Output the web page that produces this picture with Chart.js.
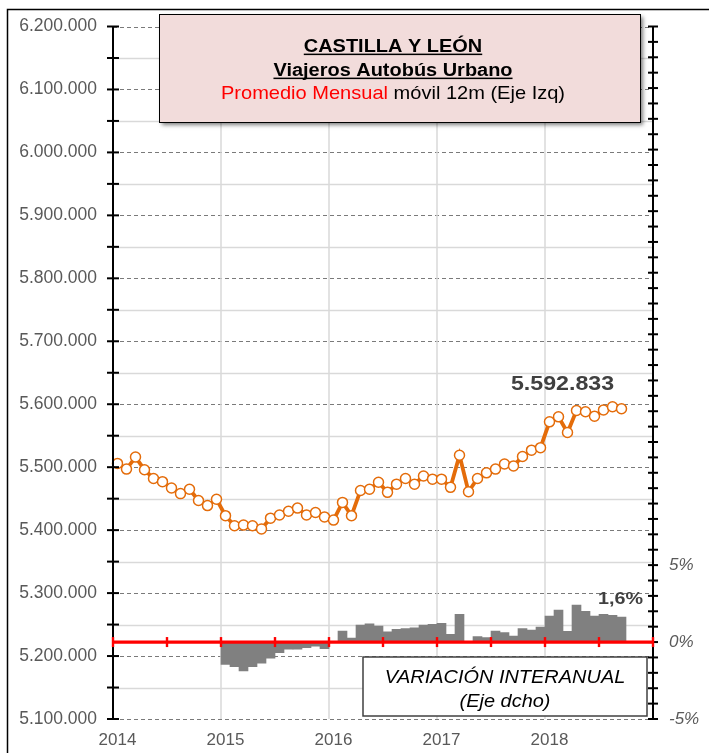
<!DOCTYPE html>
<html>
<head>
<meta charset="utf-8">
<script src="https://cdn.jsdelivr.net/npm/chart.js@4"></script>
<style>
html,body{margin:0;padding:0;background:#fff;}
#wrap{width:709px;height:753px;position:relative;overflow:hidden;}
</style>
</head>
<body>
<div id="wrap"><canvas id="c" width="709" height="753"></canvas></div>
<script>
// ---- categories (months, Jan 2014 .. Dec 2018) ----
const months = [
  '2014-01','2014-02','2014-03','2014-04','2014-05','2014-06','2014-07','2014-08','2014-09','2014-10','2014-11','2014-12',
  '2015-01','2015-02','2015-03','2015-04','2015-05','2015-06','2015-07','2015-08','2015-09','2015-10','2015-11','2015-12',
  '2016-01','2016-02','2016-03','2016-04','2016-05','2016-06','2016-07','2016-08','2016-09','2016-10','2016-11','2016-12',
  '2017-01','2017-02','2017-03','2017-04','2017-05','2017-06','2017-07','2017-08','2017-09','2017-10','2017-11','2017-12',
  '2018-01','2018-02','2018-03','2018-04','2018-05','2018-06','2018-07','2018-08','2018-09','2018-10','2018-11','2018-12'
];

// ---- series: monthly average, 12-month moving (left axis) ----
const promedioMovil = [
  5506000, 5497000, 5516000, 5496000, 5482000, 5477000, 5467000, 5458000, 5465000, 5447000, 5439000, 5449000,
  5423000, 5407000, 5408000, 5407000, 5402000, 5419000, 5424000, 5430000, 5435000, 5424000, 5428000, 5421000,
  5416000, 5444000, 5423000, 5463000, 5465000, 5476000, 5460000, 5473000, 5482000, 5473000, 5486000, 5481000,
  5481000, 5468000, 5519000, 5461000, 5482000, 5491000, 5497000, 5505000, 5502000, 5517000, 5527000, 5531000,
  5572000, 5580000, 5555000, 5590000, 5588000, 5581000, 5591000, 5596000, 5592833
];

// ---- series: interannual variation % (right axis) ----
const variacionInteranual = [
  null, null, null, null, null, null, null, null, null, null, null, null,
  -1.45, -1.60, -1.88, -1.60, -1.38, -1.04, -0.69, -0.47, -0.47, -0.36, -0.26, -0.43,
  0.03, 0.71, 0.26, 1.10, 1.19, 1.04, 0.67, 0.82, 0.87, 0.93, 1.10, 1.15,
  1.21, 0.50, 1.80, 0.02, 0.35, 0.29, 0.71, 0.61, 0.39, 0.87, 0.78, 0.97,
  1.69, 2.08, 0.69, 2.40, 1.99, 1.69, 1.80, 1.73, 1.62
];

// ---- tick labels on the right axis ----
const rightTickLabels = { '-5': '-5%', '0': '0%', '5': '5%' };

const ORANGE = '#E46C0A';
const FONT = "'Liberation Sans', Arial, sans-serif";

function fmtMiles(v) {
  return String(Math.round(v)).replace(/\B(?=(\d{3})+(?!\d))/g, '.');
}

function txt(c, s, cx, baseY, font, color, sx, underline) {
  c.save();
  c.font = font;
  c.fillStyle = color;
  c.textBaseline = 'alphabetic';
  c.textAlign = 'left';
  const w = c.measureText(s).width;
  c.translate(cx - w * sx / 2, baseY);
  c.scale(sx, 1);
  c.fillText(s, 0, 0);
  if (underline) c.fillRect(0, 1.6, w, 1.5);
  c.restore();
}

const decor = {
  id: 'decor',
  beforeDraw(chart) {
    const c = chart.ctx;
    c.save();
    c.fillStyle = '#fff';
    c.fillRect(0, 0, chart.width, chart.height);
    c.strokeStyle = '#000';
    c.lineWidth = 1.5;
    c.strokeRect(7.5, 9.5, chart.width + 40, chart.height + 40);
    c.restore();
  },
  beforeDatasetsDraw(chart) {
    const c = chart.ctx, a = chart.chartArea;
    const x = chart.scales.x, y = chart.scales.y;
    const step = x.getPixelForValue(1) - x.getPixelForValue(0);
    const edge = i => x.getPixelForValue(i) - step / 2;
    c.save();
    // horizontal grid
    for (let v = y.min; v <= y.max + 1; v += 50000) {
      const py = Math.round(y.getPixelForValue(v)) + 0.5;
      if (v % 100000 === 0) {
        c.strokeStyle = '#7a7a7a'; c.setLineDash([4, 3]); c.lineWidth = 1;
      } else {
        c.strokeStyle = '#d9d9d9'; c.setLineDash([]); c.lineWidth = 1.5;
      }
      c.beginPath(); c.moveTo(a.left, py); c.lineTo(a.right, py); c.stroke();
    }
    // vertical year grid
    c.setLineDash([]);
    c.strokeStyle = '#d9d9d9';
    c.lineWidth = 1.5;
    for (let i = 12; i < months.length; i += 12) {
      const px = edge(i);
      c.beginPath(); c.moveTo(px, a.top); c.lineTo(px, a.bottom); c.stroke();
    }
    c.restore();
  },
  afterDatasetsDraw(chart) {
    const c = chart.ctx, a = chart.chartArea;
    const x = chart.scales.x, y = chart.scales.y, y1 = chart.scales.y1;
    const step = x.getPixelForValue(1) - x.getPixelForValue(0);
    const edge = i => x.getPixelForValue(i) - step / 2;
    c.save();
    // axis lines
    c.strokeStyle = '#000';
    c.lineWidth = 2;
    c.beginPath(); c.moveTo(a.left, a.top); c.lineTo(a.left, a.bottom); c.stroke();
    c.beginPath(); c.moveTo(a.right, a.top); c.lineTo(a.right, a.bottom); c.stroke();
    // left ticks (every 50.000)
    for (let v = y.min; v <= y.max + 1; v += 50000) {
      const py = y.getPixelForValue(v);
      c.beginPath(); c.moveTo(a.left - 6, py); c.lineTo(a.left + 6, py); c.stroke();
    }
    // right ticks (every 1%)
    for (let v = y1.min; v <= y1.max; v += 1) {
      const py = y1.getPixelForValue(v);
      c.beginPath(); c.moveTo(a.right - 5, py); c.lineTo(a.right + 5, py); c.stroke();
    }
    // red zero line with half-year ticks
    const y0 = y1.getPixelForValue(0);
    c.strokeStyle = '#FF0000';
    c.lineWidth = 3.2;
    c.beginPath(); c.moveTo(a.left, y0); c.lineTo(a.right, y0); c.stroke();
    c.lineWidth = 2.4;
    for (let i = 0; i <= months.length; i += 6) {
      const px = edge(i);
      c.beginPath(); c.moveTo(px, y0 - 5); c.lineTo(px, y0 + 5); c.stroke();
    }
    c.restore();
  },
  afterDraw(chart) {
    const c = chart.ctx;
    const x = chart.scales.x, y = chart.scales.y, y1 = chart.scales.y1;
    // title box
    c.save();
    c.shadowColor = 'rgba(0,0,0,0.5)';
    c.shadowBlur = 4;
    c.shadowOffsetX = 3;
    c.shadowOffsetY = 3;
    c.fillStyle = '#F2DCDB';
    c.fillRect(159, 14, 481, 108);
    c.restore();
    c.save();
    c.strokeStyle = '#000';
    c.lineWidth = 1;
    c.strokeRect(159.5, 14.5, 481, 108);
    c.restore();
    txt(c, 'CASTILLA Y LEÓN', 393, 52, 'bold 17.5px ' + FONT, '#000', 1.14, true);
    txt(c, 'Viajeros Autobús Urbano', 393, 76, 'bold 17.5px ' + FONT, '#000', 1.14, true);
    // third line, two colours
    c.save();
    c.font = '18.5px ' + FONT;
    const p1 = 'Promedio Mensual', p2 = ' móvil 12m (Eje Izq)';
    const sx = 1.083;
    const w1 = c.measureText(p1).width, w2 = c.measureText(p2).width;
    const startX = 393 - (w1 + w2) * sx / 2;
    c.translate(startX, 98.5);
    c.scale(sx, 1);
    c.textBaseline = 'alphabetic';
    c.fillStyle = '#FF0000';
    c.fillText(p1, 0, 0);
    c.fillStyle = '#000';
    c.fillText(p2, w1, 0);
    c.restore();

    // variation box
    c.save();
    c.fillStyle = '#fff';
    c.fillRect(363, 657, 284, 59);
    c.strokeStyle = '#404040';
    c.lineWidth = 1.5;
    c.strokeRect(363, 657, 284, 59);
    c.restore();
    txt(c, 'VARIACIÓN INTERANUAL', 505, 682.5, 'italic 17.5px ' + FONT, '#000', 1.14, false);
    txt(c, '(Eje dcho)', 505, 706.5, 'italic 17.5px ' + FONT, '#000', 1.14, false);

    // data labels for last values
    const li = promedioMovil.length - 1;
    const lx = x.getPixelForValue(li), ly = y.getPixelForValue(promedioMovil[li]);
    txt(c, fmtMiles(promedioMovil[li]), lx - 59, ly - 18.5, 'bold 20px ' + FONT, '#404040', 1.16, false);
    const bi = variacionInteranual.length - 1;
    const bv = variacionInteranual[bi];
    const bx = x.getPixelForValue(bi), by = y1.getPixelForValue(bv);
    txt(c, bv.toFixed(1).replace('.', ',') + '%', bx - 1, by - 13, 'bold 17px ' + FONT, '#404040', 1.16, false);
  }
};

Chart.defaults.font.family = FONT;

new Chart(document.getElementById('c'), {
  type: 'bar',
  data: {
    labels: months,
    datasets: [
      {
        type: 'line',
        label: 'Promedio Mensual móvil 12m',
        data: promedioMovil,
        yAxisID: 'y',
        borderColor: ORANGE,
        borderWidth: 3.8,
        pointRadius: 5,
        pointBorderWidth: 1.5,
        pointBackgroundColor: '#fff',
        pointBorderColor: ORANGE,
        tension: 0,
        order: 0
      },
      {
        type: 'bar',
        label: 'Variación interanual',
        data: variacionInteranual,
        yAxisID: 'y1',
        backgroundColor: '#808080',
        borderWidth: 0,
        barPercentage: 1,
        categoryPercentage: 1,
        order: 1
      }
    ]
  },
  options: {
    responsive: false,
    animation: false,
    devicePixelRatio: 1,
    layout: { padding: { top: 26, left: 0, right: 0, bottom: 0 } },
    plugins: { legend: { display: false }, tooltip: { enabled: false } },
    scales: {
      x: {
        type: 'category',
        offset: true,
        grid: { display: false, drawTicks: false },
        border: { display: false },
        ticks: {
          autoSkip: false, maxRotation: 0, minRotation: 0, padding: 11,
          color: '#595959', font: { size: 17 },
          callback: (v, i) => months[i].endsWith('-01') ? months[i].slice(0, 4) : ''
        },
        afterFit: s => { s.height = 34; }
      },
      y: {
        position: 'left',
        min: 5100000, max: 6200000,
        grid: { display: false, drawTicks: false },
        border: { display: false },
        ticks: {
          stepSize: 100000, padding: 16, color: '#595959', font: { size: 17.5 },
          callback: v => fmtMiles(v)
        },
        afterFit: s => { s.width = 113; }
      },
      y1: {
        position: 'right',
        min: -5, max: 40,
        grid: { display: false, drawTicks: false },
        border: { display: false },
        ticks: {
          stepSize: 5, padding: 16, color: '#595959', font: { size: 17, style: 'italic' },
          callback: v => rightTickLabels[String(v)] || ''
        },
        afterFit: s => { s.width = 56; }
      }
    }
  },
  plugins: [decor]
});
</script>
</body>
</html>
